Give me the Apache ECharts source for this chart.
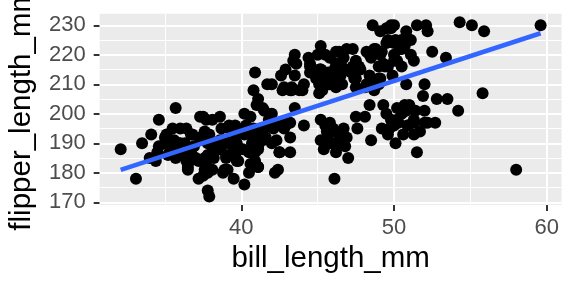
<!DOCTYPE html>
<html><head><meta charset="utf-8">
<script src="https://cdn.jsdelivr.net/npm/echarts@6/dist/echarts.min.js"></script>
<style>html,body{margin:0;padding:0;background:#fff}#c{width:576px;height:288px}</style>
</head><body><div id="c"></div>
<script>
// bill_length_mm values (null = missing)
const billLength = [
39.1,39.5,40.3,null,36.7,39.3,38.9,39.2,34.1,42.0,37.8,37.8,41.1,38.6,34.6,36.6,38.7,42.5,34.4,46.0,
37.8,37.7,35.9,38.2,38.8,35.3,40.6,40.5,37.9,40.5,39.5,37.2,39.5,40.9,36.4,39.2,38.8,42.2,37.6,39.8,
36.5,40.8,36.0,44.1,37.0,39.6,41.1,37.5,36.0,42.3,39.6,40.1,35.0,42.0,34.5,41.4,39.0,40.6,36.5,37.6,
35.7,41.3,37.6,41.1,36.4,41.6,35.5,41.1,35.9,41.8,33.5,39.7,39.6,45.8,35.5,42.8,40.9,37.2,36.2,42.1,
34.6,42.9,36.7,35.1,37.3,41.3,36.3,36.9,38.3,38.9,35.7,41.1,34.0,39.6,36.2,40.8,38.1,40.3,33.1,43.2,
35.0,41.0,37.7,37.8,37.9,39.7,38.6,38.2,38.1,43.2,38.1,45.6,39.7,42.2,39.6,42.7,38.6,37.3,35.7,41.1,
36.2,37.7,40.2,41.4,35.2,40.6,38.8,41.5,39.0,44.1,38.5,43.1,36.8,37.5,38.1,41.1,35.6,40.2,37.0,39.7,
40.2,40.6,32.1,40.7,37.3,39.0,39.2,36.6,36.0,37.8,36.0,41.5,
46.1,50.0,48.7,50.0,47.6,46.5,45.4,46.7,43.3,46.8,40.9,49.0,45.5,48.4,45.8,49.3,42.0,49.2,46.2,48.7,
50.2,45.1,46.5,46.3,42.9,46.1,44.5,47.8,48.2,50.0,47.3,42.8,45.1,59.6,49.1,48.4,42.6,44.4,44.0,48.7,
42.7,49.6,45.3,49.6,50.5,43.6,45.5,50.5,44.9,45.2,46.6,48.5,45.1,50.1,46.5,45.0,43.8,45.5,43.2,50.4,
45.3,46.2,45.7,54.3,45.8,49.8,46.2,49.5,43.5,50.7,47.7,46.4,48.2,46.5,46.4,48.6,47.5,51.1,45.2,45.2,
49.1,52.5,47.4,50.0,44.9,50.8,43.4,51.3,47.5,52.1,47.5,52.2,45.5,49.5,44.5,50.8,49.4,46.9,48.4,51.1,
48.5,55.9,47.2,49.1,47.3,46.8,41.7,53.4,43.3,48.1,50.5,49.8,43.5,51.5,46.2,55.1,44.5,48.8,47.2,null,
46.8,50.4,45.2,49.9,
46.5,50.0,51.3,45.4,52.7,45.2,46.1,51.3,46.0,51.3,46.6,51.7,47.0,52.0,45.9,50.5,50.3,58.0,46.4,49.2,
42.4,48.5,43.2,50.6,46.7,52.0,50.5,49.5,46.4,52.8,40.9,54.2,42.5,51.0,49.7,47.5,47.6,52.0,46.9,53.5,
49.0,46.2,50.9,45.5,50.9,50.8,50.1,49.0,51.5,49.8,48.1,51.4,45.7,50.7,42.5,52.2,45.2,49.3,50.2,45.6,
51.9,46.8,45.7,55.8,43.5,49.6,50.8,50.2
];
// flipper_length_mm values (null = missing)
const flipperLength = [
181,186,195,null,193,190,181,195,193,190,186,180,182,191,198,185,195,197,184,194,
174,180,189,185,180,187,183,187,172,180,178,178,188,184,195,196,190,180,181,184,
182,195,186,196,185,190,182,179,190,191,186,188,190,200,187,191,186,193,181,194,
185,195,185,192,184,192,195,188,190,198,190,190,196,197,190,195,191,184,187,195,
189,196,187,193,191,194,190,189,189,190,202,205,185,186,187,208,190,196,178,192,
192,203,183,190,193,184,199,190,181,197,198,191,193,197,191,196,188,199,189,189,
187,198,176,202,186,199,191,195,191,210,190,197,193,199,187,190,191,200,185,193,
193,187,188,190,192,185,190,184,195,193,187,201,
211,230,210,218,215,210,211,219,209,215,214,216,214,213,210,217,210,221,209,222,
218,215,213,215,215,215,216,215,210,220,222,209,207,230,220,220,213,219,208,208,
208,225,210,216,222,217,210,225,213,215,210,220,210,225,217,220,208,220,208,224,
208,221,214,231,219,230,214,229,220,223,216,221,221,217,216,230,209,220,215,223,
212,221,212,224,212,228,218,218,212,230,218,228,212,224,214,226,216,222,203,225,
219,228,215,228,216,215,210,219,208,209,216,229,213,230,217,230,217,222,214,null,
215,222,212,213,
192,196,193,188,197,198,178,197,195,198,193,194,185,201,190,201,197,181,190,195,
181,191,187,193,195,197,200,200,191,205,187,201,187,203,195,199,195,210,192,205,
210,187,196,196,196,201,190,212,187,198,199,201,193,203,187,197,191,203,202,194,
206,189,195,207,202,193,210,198
];
// fitted line endpoints
const smoothX = [32.1, 59.6];
const smoothY = [181.0, 227.3];
// ticks
const xTicks = [40, 50, 60];
const xMinor = [35, 45, 55];
const yTicks = [170, 180, 190, 200, 210, 220, 230];
const yMinor = [175, 185, 195, 205, 215, 225];
const xLabel = 'bill_length_mm';
const yLabel = 'flipper_length_mm';

const points = [];
for (let i = 0; i < billLength.length; i++) {
  if (billLength[i] != null && flipperLength[i] != null) points.push([billLength[i], flipperLength[i]]);
}
const smooth = smoothX.map((x, i) => [x, smoothY[i]]);

const gridLines = [];
xMinor.forEach(v => gridLines.push({xAxis: v, lineStyle: {width: 1}}));
yMinor.forEach(v => gridLines.push({yAxis: v, lineStyle: {width: 1}}));
xTicks.forEach(v => gridLines.push({xAxis: v, lineStyle: {width: 2}}));
yTicks.forEach(v => gridLines.push({yAxis: v, lineStyle: {width: 2}}));

const font = 'Liberation Sans, Arial, sans-serif';
const chart = echarts.init(document.getElementById('c'), null, {renderer: 'canvas'});
chart.setOption({
  animation: false,
  backgroundColor: '#ffffff',
  grid: {left: 99.7, top: 13.65, width: 461.9, height: 191.45, show: true, backgroundColor: '#EBEBEB', borderWidth: 0, z: 0},
  graphic: [{
    type: 'text', x: 22, y: 109.3, rotation: Math.PI / 2, silent: true,
    style: {text: yLabel, fontFamily: font, fontSize: 29.5, fill: '#000000', align: 'center', verticalAlign: 'middle'}
  }],
  xAxis: {
    type: 'value', min: 30.725, max: 60.975,
    name: xLabel, nameLocation: 'middle', nameGap: 39,
    nameTextStyle: {fontFamily: font, fontSize: 29.5, color: '#000000'},
    axisLine: {show: false},
    axisTick: {show: true, length: 6, customValues: xTicks, lineStyle: {color: '#333333', width: 2}},
    axisLabel: {customValues: xTicks, margin: 12, fontFamily: font, fontSize: 22, color: '#4D4D4D'},
    splitLine: {show: false}, minorSplitLine: {show: false}
  },
  yAxis: {
    type: 'value', min: 169.05, max: 233.95,
    axisLine: {show: false},
    axisTick: {show: true, length: 6, customValues: yTicks, lineStyle: {color: '#333333', width: 2}},
    axisLabel: {customValues: yTicks, margin: 14, fontFamily: font, fontSize: 22, color: '#4D4D4D'},
    splitLine: {show: false}, minorSplitLine: {show: false}
  },
  series: [
    {
      type: 'line', data: [], z: 1, silent: true,
      markLine: {z: 1, silent: true, symbol: ['none', 'none'], label: {show: false}, animation: false,
        lineStyle: {color: '#FFFFFF', type: 'solid'}, emphasis: {disabled: true}, data: gridLines}
    },
    {
      type: 'scatter', data: points, z: 3, symbol: 'circle', symbolSize: 12,
      itemStyle: {color: '#000000', opacity: 1}
    },
    {
      type: 'line', data: smooth, z: 4, symbol: 'none',
      lineStyle: {color: '#3366FF', width: 4.6}
    }
  ]
});
</script></body></html>
